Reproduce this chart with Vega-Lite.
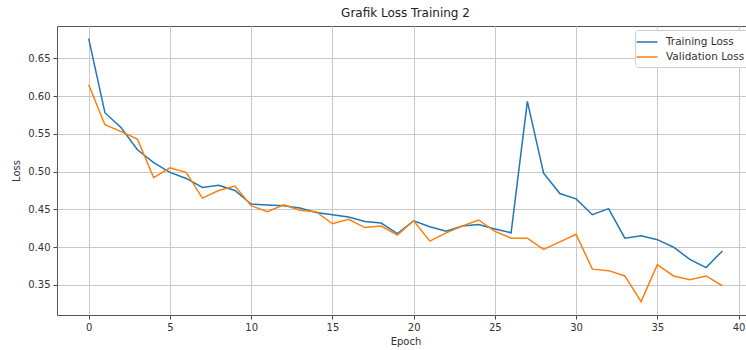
{
  "$schema": "https://vega.github.io/schema/vega-lite/v6.json",
  "autosize": "none",
  "padding": {"left": 57, "top": 26, "right": 0, "bottom": 35},
  "width": 697,
  "height": 289,
  "background": "white",
  "title": {"text": "Grafik Loss Training 2", "fontSize": 12, "font": "DejaVu Sans", "fontWeight": "normal", "color": "#222", "offset": 6, "anchor": "middle"},
  "data": {"values": [
    {"epoch": 0, "series": "Training Loss", "loss": 0.676},
    {"epoch": 1, "series": "Training Loss", "loss": 0.578},
    {"epoch": 2, "series": "Training Loss", "loss": 0.558},
    {"epoch": 3, "series": "Training Loss", "loss": 0.529},
    {"epoch": 4, "series": "Training Loss", "loss": 0.512},
    {"epoch": 5, "series": "Training Loss", "loss": 0.499},
    {"epoch": 6, "series": "Training Loss", "loss": 0.491},
    {"epoch": 7, "series": "Training Loss", "loss": 0.479},
    {"epoch": 8, "series": "Training Loss", "loss": 0.482},
    {"epoch": 9, "series": "Training Loss", "loss": 0.475},
    {"epoch": 10, "series": "Training Loss", "loss": 0.457},
    {"epoch": 11, "series": "Training Loss", "loss": 0.456},
    {"epoch": 12, "series": "Training Loss", "loss": 0.455},
    {"epoch": 13, "series": "Training Loss", "loss": 0.452},
    {"epoch": 14, "series": "Training Loss", "loss": 0.446},
    {"epoch": 15, "series": "Training Loss", "loss": 0.443},
    {"epoch": 16, "series": "Training Loss", "loss": 0.440},
    {"epoch": 17, "series": "Training Loss", "loss": 0.434},
    {"epoch": 18, "series": "Training Loss", "loss": 0.432},
    {"epoch": 19, "series": "Training Loss", "loss": 0.418},
    {"epoch": 20, "series": "Training Loss", "loss": 0.435},
    {"epoch": 21, "series": "Training Loss", "loss": 0.427},
    {"epoch": 22, "series": "Training Loss", "loss": 0.421},
    {"epoch": 23, "series": "Training Loss", "loss": 0.428},
    {"epoch": 24, "series": "Training Loss", "loss": 0.430},
    {"epoch": 25, "series": "Training Loss", "loss": 0.424},
    {"epoch": 26, "series": "Training Loss", "loss": 0.419},
    {"epoch": 27, "series": "Training Loss", "loss": 0.593},
    {"epoch": 28, "series": "Training Loss", "loss": 0.498},
    {"epoch": 29, "series": "Training Loss", "loss": 0.471},
    {"epoch": 30, "series": "Training Loss", "loss": 0.464},
    {"epoch": 31, "series": "Training Loss", "loss": 0.443},
    {"epoch": 32, "series": "Training Loss", "loss": 0.451},
    {"epoch": 33, "series": "Training Loss", "loss": 0.412},
    {"epoch": 34, "series": "Training Loss", "loss": 0.415},
    {"epoch": 35, "series": "Training Loss", "loss": 0.410},
    {"epoch": 36, "series": "Training Loss", "loss": 0.400},
    {"epoch": 37, "series": "Training Loss", "loss": 0.384},
    {"epoch": 38, "series": "Training Loss", "loss": 0.373},
    {"epoch": 39, "series": "Training Loss", "loss": 0.395},
    {"epoch": 0, "series": "Validation Loss", "loss": 0.615},
    {"epoch": 1, "series": "Validation Loss", "loss": 0.562},
    {"epoch": 2, "series": "Validation Loss", "loss": 0.553},
    {"epoch": 3, "series": "Validation Loss", "loss": 0.543},
    {"epoch": 4, "series": "Validation Loss", "loss": 0.492},
    {"epoch": 5, "series": "Validation Loss", "loss": 0.505},
    {"epoch": 6, "series": "Validation Loss", "loss": 0.499},
    {"epoch": 7, "series": "Validation Loss", "loss": 0.465},
    {"epoch": 8, "series": "Validation Loss", "loss": 0.475},
    {"epoch": 9, "series": "Validation Loss", "loss": 0.481},
    {"epoch": 10, "series": "Validation Loss", "loss": 0.455},
    {"epoch": 11, "series": "Validation Loss", "loss": 0.447},
    {"epoch": 12, "series": "Validation Loss", "loss": 0.456},
    {"epoch": 13, "series": "Validation Loss", "loss": 0.449},
    {"epoch": 14, "series": "Validation Loss", "loss": 0.447},
    {"epoch": 15, "series": "Validation Loss", "loss": 0.431},
    {"epoch": 16, "series": "Validation Loss", "loss": 0.437},
    {"epoch": 17, "series": "Validation Loss", "loss": 0.426},
    {"epoch": 18, "series": "Validation Loss", "loss": 0.428},
    {"epoch": 19, "series": "Validation Loss", "loss": 0.416},
    {"epoch": 20, "series": "Validation Loss", "loss": 0.435},
    {"epoch": 21, "series": "Validation Loss", "loss": 0.408},
    {"epoch": 22, "series": "Validation Loss", "loss": 0.419},
    {"epoch": 23, "series": "Validation Loss", "loss": 0.428},
    {"epoch": 24, "series": "Validation Loss", "loss": 0.436},
    {"epoch": 25, "series": "Validation Loss", "loss": 0.421},
    {"epoch": 26, "series": "Validation Loss", "loss": 0.412},
    {"epoch": 27, "series": "Validation Loss", "loss": 0.412},
    {"epoch": 28, "series": "Validation Loss", "loss": 0.397},
    {"epoch": 29, "series": "Validation Loss", "loss": 0.407},
    {"epoch": 30, "series": "Validation Loss", "loss": 0.417},
    {"epoch": 31, "series": "Validation Loss", "loss": 0.371},
    {"epoch": 32, "series": "Validation Loss", "loss": 0.369},
    {"epoch": 33, "series": "Validation Loss", "loss": 0.362},
    {"epoch": 34, "series": "Validation Loss", "loss": 0.328},
    {"epoch": 35, "series": "Validation Loss", "loss": 0.377},
    {"epoch": 36, "series": "Validation Loss", "loss": 0.362},
    {"epoch": 37, "series": "Validation Loss", "loss": 0.357},
    {"epoch": 38, "series": "Validation Loss", "loss": 0.362},
    {"epoch": 39, "series": "Validation Loss", "loss": 0.349}
  ]},
  "mark": {"type": "line", "strokeWidth": 1.5, "clip": true},
  "encoding": {
    "x": {
      "field": "epoch", "type": "quantitative", "title": "Epoch",
      "scale": {"domain": [-1.95, 40.95], "nice": false, "zero": false},
      "axis": {"values": [0, 5, 10, 15, 20, 25, 30, 35, 40], "format": "d", "titlePadding": 4}
    },
    "y": {
      "field": "loss", "type": "quantitative", "title": "Loss",
      "scale": {"domain": [0.3103, 0.6927], "nice": false, "zero": false},
      "axis": {"values": [0.35, 0.4, 0.45, 0.5, 0.55, 0.6, 0.65], "format": ".2f", "titlePadding": 6}
    },
    "color": {
      "field": "series", "type": "nominal",
      "scale": {"domain": ["Training Loss", "Validation Loss"], "range": ["#1f77b4", "#ff7f0e"]},
      "legend": {
        "title": null, "orient": "none", "legendX": 578, "legendY": 4,
        "symbolType": "M-1.5,0L1.5,0", "symbolSize": 196, "symbolStrokeWidth": 1.5,
        "labelFontSize": 10.5, "labelFont": "DejaVu Sans", "labelColor": "#333", "labelOffset": 11,
        "fillColor": "white", "strokeColor": "#d0d0d0", "padding": 4, "cornerRadius": 3,
        "rowPadding": 1, "labelLimit": 200
      }
    }
  },
  "config": {
    "view": {"stroke": "#555", "strokeWidth": 1},
    "axis": {
      "labelFont": "DejaVu Sans", "titleFont": "DejaVu Sans",
      "labelFontSize": 10, "titleFontSize": 10, "titleFontWeight": "normal",
      "labelColor": "#333", "titleColor": "#333",
      "domain": false, "tickColor": "#444", "tickSize": 4, "labelPadding": 3,
      "gridColor": "#c8c8c8", "gridWidth": 1
    }
  }
}
